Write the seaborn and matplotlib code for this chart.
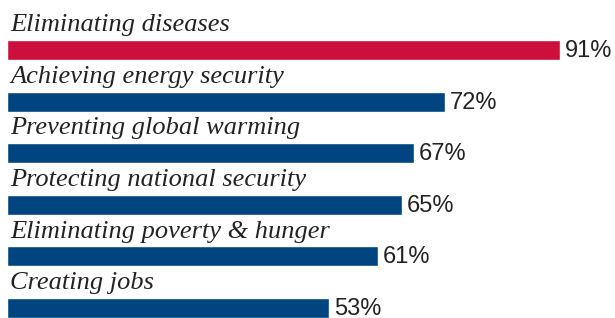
import matplotlib
matplotlib.use("Agg")
import matplotlib.pyplot as plt
import seaborn as sns
import pandas as pd

categories = ["Eliminating diseases", "Achieving energy security", "Preventing global warming",
              "Protecting national security", "Eliminating poverty & hunger", "Creating jobs"]
values = [91, 72, 67, 65, 61, 53]
colors = ["#CC0F3D", "#00457F", "#00457F", "#00457F", "#00457F", "#00457F"]

df = pd.DataFrame({"cat": categories, "val": values})

sns.set_style("white")
fig = plt.figure(figsize=(6.15, 3.18), dpi=100)
ax = fig.add_axes([7/615, 0, 608/615, 1])
sns.barplot(data=df, x="val", y="cat", hue="cat", palette=colors, legend=False,
            orient="h", width=20/51.6, ax=ax, saturation=1)
ax.set_xlim(0, 100)
ax.set_ylim((318-50)/51.6, -50/51.6)
ax.axis("off")

for i, (c, v) in enumerate(zip(categories, values)):
    ax.text(0.5, i - 0.194 - 0.17, c, fontsize=19, family="Liberation Serif",
            style="italic", color="#222222", va="baseline", ha="left")
    ax.text(v + 0.8, i + 0.136, f"{v}%", fontsize=17, family="Liberation Sans",
            color="#222222", va="baseline", ha="left")

fig.savefig("out.png", dpi=100)
